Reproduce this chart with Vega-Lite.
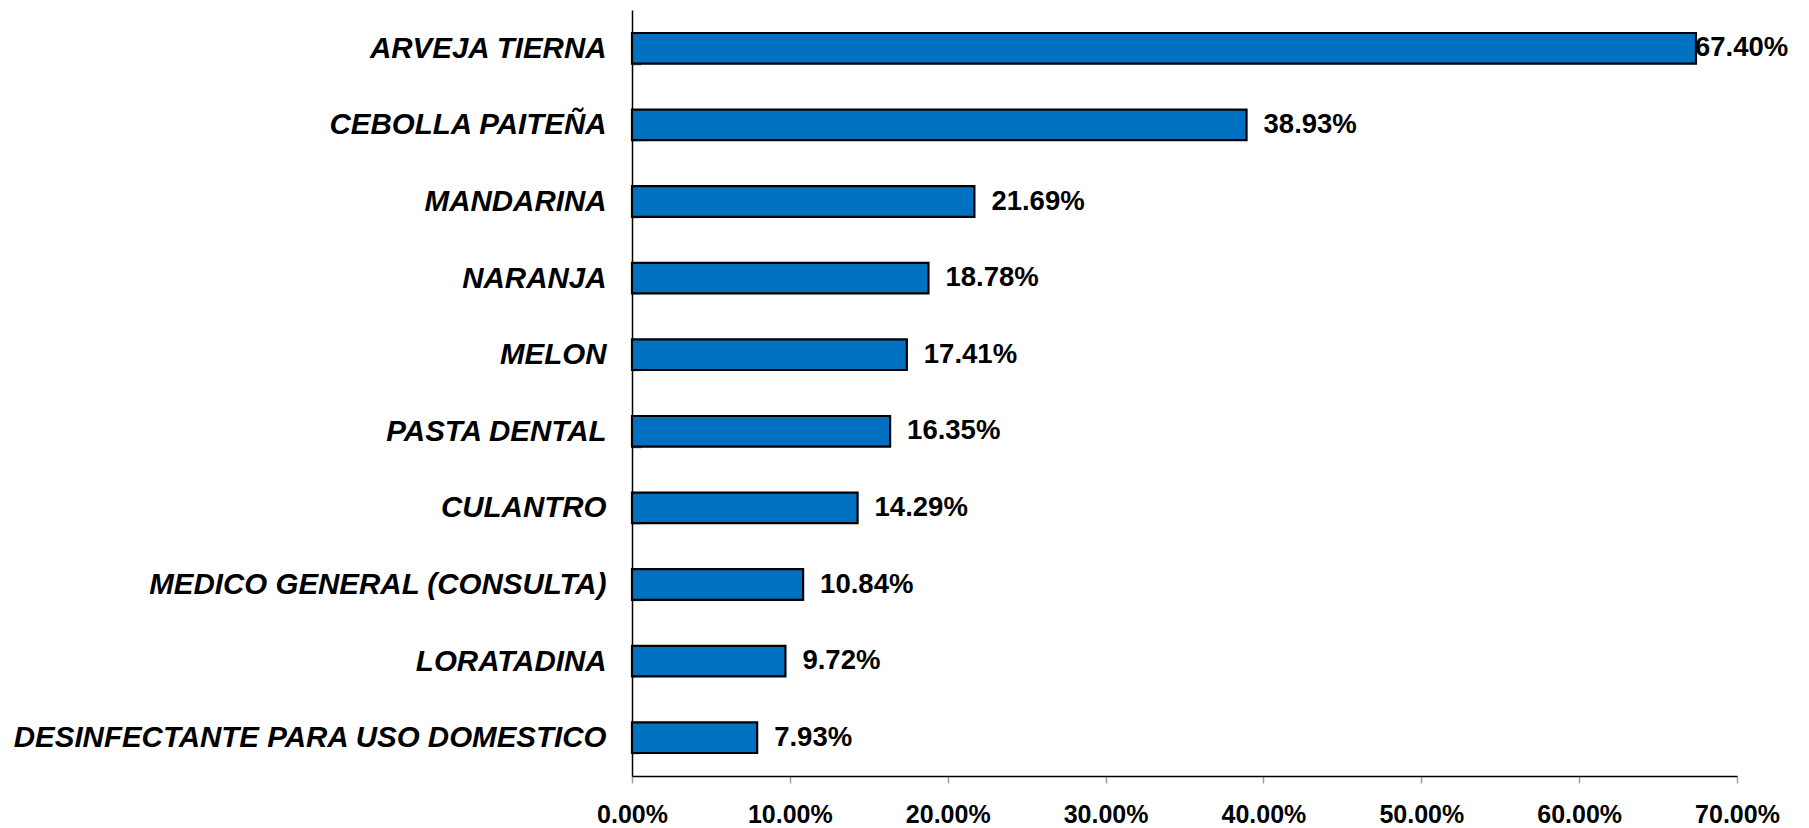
{
  "$schema": "https://vega.github.io/schema/vega-lite/v6.json",
  "autosize": {"type": "none"},
  "padding": {"left": 632, "top": 10, "right": 72, "bottom": 52},
  "width": 1105,
  "height": 766,
  "background": "white",
  "data": {
    "values": [
      {"producto": "ARVEJA TIERNA", "valor": 0.6740},
      {"producto": "CEBOLLA PAITEÑA", "valor": 0.3893},
      {"producto": "MANDARINA", "valor": 0.2169},
      {"producto": "NARANJA", "valor": 0.1878},
      {"producto": "MELON", "valor": 0.1741},
      {"producto": "PASTA DENTAL", "valor": 0.1635},
      {"producto": "CULANTRO", "valor": 0.1429},
      {"producto": "MEDICO GENERAL (CONSULTA)", "valor": 0.1084},
      {"producto": "LORATADINA", "valor": 0.0972},
      {"producto": "DESINFECTANTE PARA USO DOMESTICO", "valor": 0.0793}
    ]
  },
  "config": {
    "view": {"stroke": null},
    "font": "Liberation Sans"
  },
  "encoding": {
    "y": {
      "field": "producto",
      "type": "nominal",
      "sort": null,
      "scale": {"paddingInner": 0.6, "paddingOuter": 0.3},
      "axis": {
        "title": null,
        "tickBand": "extent",
        "tickSize": -9,
        "tickColor": "#808080",
        "tickWidth": 1.5,
        "domainColor": "black",
        "domainWidth": 1.5,
        "labelFont": "Liberation Sans",
        "labelFontSize": 29.5,
        "labelFontWeight": "bold",
        "labelFontStyle": "italic",
        "labelColor": "black",
        "labelPadding": 35,
        "labelLimit": 700
      }
    },
    "x": {
      "field": "valor",
      "type": "quantitative",
      "scale": {"domain": [0, 0.7], "nice": false},
      "axis": {
        "title": null,
        "format": ".2%",
        "values": [0, 0.1, 0.2, 0.3, 0.4, 0.5, 0.6, 0.7],
        "grid": false,
        "tickSize": 7,
        "tickColor": "#a0a0a0",
        "tickWidth": 1.5,
        "domainColor": "black",
        "domainWidth": 1.5,
        "labelFont": "Liberation Sans",
        "labelFontSize": 25,
        "labelFontWeight": "bold",
        "labelColor": "black",
        "labelPadding": 19,
        "labelFlush": false,
        "labelOverlap": false
      }
    }
  },
  "layer": [
    {
      "mark": {"type": "bar", "color": "#0070C0", "stroke": "black", "strokeWidth": 2.2}
    },
    {
      "transform": [{"filter": "datum.valor < 0.6"}],
      "mark": {"type": "text", "align": "left", "baseline": "middle", "dx": 17, "fontSize": 27.5, "fontWeight": "bold", "color": "black", "font": "Liberation Sans"},
      "encoding": {"text": {"field": "valor", "type": "quantitative", "format": ".2%"}}
    },
    {
      "transform": [{"filter": "datum.valor >= 0.6"}],
      "mark": {"type": "text", "align": "left", "baseline": "middle", "dx": -1, "fontSize": 27.5, "fontWeight": "bold", "color": "black", "font": "Liberation Sans"},
      "encoding": {"text": {"field": "valor", "type": "quantitative", "format": ".2%"}}
    }
  ]
}
